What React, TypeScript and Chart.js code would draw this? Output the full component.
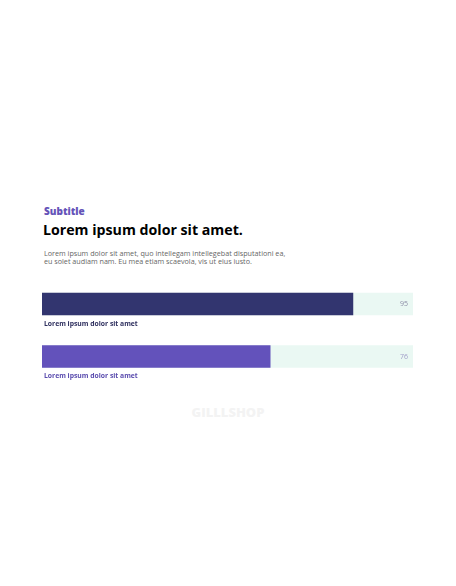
import React, { useEffect, useRef } from "react";
import { Chart, registerables } from "chart.js";

Chart.register(...registerables);

const categories = ["Lorem ipsum dolor sit amet", "Lorem ipsum dolor sit amet"];
const values = [95, 76];
const barColors = ["#32356f", "#6352bb"];
const labelColors = ["#2e2f5e", "#5a4cae"];
const valueColors = ["#8c8ca6", "#a09cc8"];
const trackColor = "#eaf8f3";
const X_MIN = 23.6;
const X_MAX = 108.8;

const labelsPlugin = {
  id: "barLabels",
  afterDatasetsDraw(chart: any) {
    const ctx = chart.ctx;
    const meta = chart.getDatasetMeta(1);
    const area = chart.chartArea;
    ctx.save();
    meta.data.forEach((bar: any, i: number) => {
      const y = bar.y;
      ctx.textBaseline = "middle";
      ctx.textAlign = "right";
      ctx.font = "400 7px 'Open Sans', sans-serif";
      ctx.fillStyle = valueColors[i];
      ctx.fillText(String(values[i]), area.right - 5, y);
      ctx.textAlign = "left";
      ctx.font = "700 6.8px 'Open Sans', sans-serif";
      ctx.fillStyle = labelColors[i];
      ctx.fillText(categories[i], area.left + 2, y + 20);
    });
    ctx.restore();
  },
};

function BarChart() {
  const ref = useRef<HTMLCanvasElement>(null);
  useEffect(() => {
    if (!ref.current) return;
    const chart = new Chart(ref.current, {
      type: "bar",
      data: {
        labels: categories,
        datasets: [
          {
            data: values.map(() => X_MAX),
            backgroundColor: trackColor,
            barThickness: 22,
            grouped: false,
            order: 2,
          } as any,
          {
            data: values,
            backgroundColor: barColors,
            barThickness: 22,
            grouped: false,
            order: 1,
          } as any,
        ],
      },
      options: {
        indexAxis: "y",
        animation: false,
        responsive: true,
        maintainAspectRatio: false,
        layout: { padding: { left: 34, right: 35, top: 7.75, bottom: 12.25 } },
        plugins: { legend: { display: false }, tooltip: { enabled: false } },
        scales: {
          x: { display: false, min: X_MIN, max: X_MAX },
          y: { display: false },
        },
      },
      plugins: [labelsPlugin],
    });
    return () => chart.destroy();
  }, []);
  return <canvas ref={ref} />;
}

export default function App() {
  const font = "'Open Sans', sans-serif";
  return (
    <div style={{ position: "relative", width: 440, height: 560, fontFamily: font }}>
      <div style={{ position: "absolute", left: 36, top: 196, fontSize: 10, fontWeight: 800, color: "#6453b8", lineHeight: "14px" }}>
        Subtitle
      </div>
      <div style={{ position: "absolute", left: 35, top: 212, fontSize: 14.2, fontWeight: 700, color: "#000", lineHeight: "20px" }}>
        Lorem ipsum dolor sit amet.
      </div>
      <div style={{ position: "absolute", left: 36, top: 241, fontSize: 7.2, color: "#666", lineHeight: "8px", width: 300 }}>
        Lorem ipsum dolor sit amet, quo intellegam intellegebat disputationi ea,
        <br />
        eu solet audiam nam. Eu mea etiam scaevola, vis ut eius iusto.
      </div>
      <div style={{ position: "absolute", left: 0, top: 262, width: 440, height: 125 }}>
        <BarChart />
      </div>
      <div style={{ position: "absolute", left: 0, width: 440, top: 396, textAlign: "center", fontSize: 13, fontWeight: 800, color: "#f3f3f3", lineHeight: "16px" }}>
        GILLLSHOP
      </div>
    </div>
  );
}
